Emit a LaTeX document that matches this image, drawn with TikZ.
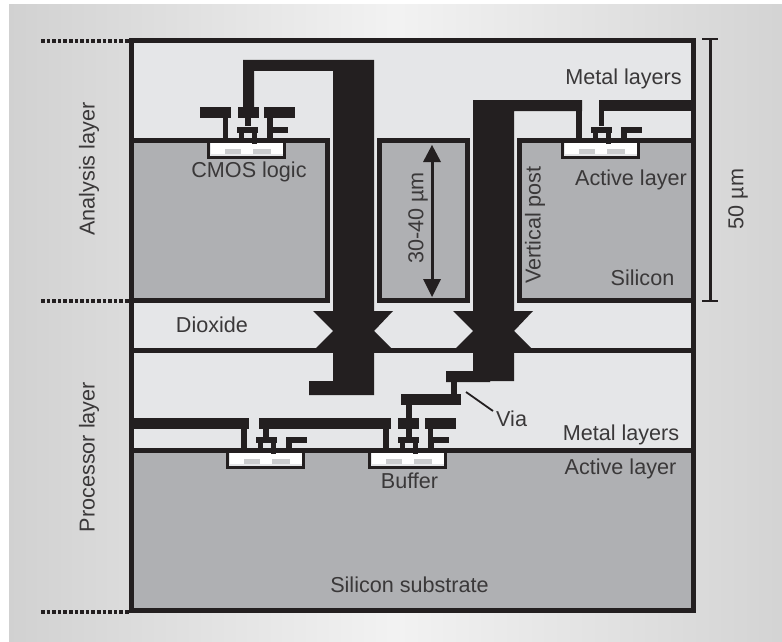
\documentclass[tikz,border=0pt]{standalone}
\usepackage{fontspec}
\setmainfont{Liberation Sans}
\definecolor{ink}{HTML}{231F20}
\definecolor{pale}{HTML}{E5E6E8}
\definecolor{silicon}{HTML}{AFB0B3}
\definecolor{bump}{HTML}{CBCCCE}
\definecolor{txt}{HTML}{3A3839}
\pgfdeclarehorizontalshading{bgshade}{100bp}{
  color(0bp)=(white!0!black!18);
  color(25bp)=(white!0!black!18);
  color(50bp)=(white!0!black!5);
  color(75bp)=(white!0!black!17);
  color(100bp)=(white!0!black!17)}
\tikzset{
  lbl/.style={inner sep=0pt,text=txt,font=\fontsize{21.6}{25}\selectfont},
  rot/.style={lbl,rotate=90},
  wall/.style={draw=ink,line width=5pt,line join=miter},
  dots/.style={draw=ink,line width=4pt,dash pattern=on 3.6pt off 2pt},
  dim/.style={draw=ink,line width=3pt}
}
\newcommand{\mtl}[4]{\fill[ink] (#1,#2) rectangle (#3,#4);}
% chip at left edge #1, under wall whose top is #2, with transistor above it
\newcommand{\chipat}[2]{%
  \pgfmathsetmacro{\yb}{#2+5}%
  \pgfmathsetmacro{\yc}{#2+21}%
  \filldraw[fill=pale,draw=ink,line width=3pt] (#1+1.5,\yb) -- (#1+1.5,\yc-1.5) -- (#1+77.5,\yc-1.5) -- (#1+77.5,\yb);
  \fill[white] (#1+4,\yb) rectangle (#1+76,\yb+11);
  \fill[bump] (#1+18,\yb+6) rectangle (#1+34,\yb+11);
  \fill[bump] (#1+46,\yb+6) rectangle (#1+64,\yb+11);
  \mtl{#1+30}{#2-11.5}{#1+51}{#2-5.5}
  \mtl{#1+32}{#2-5.5}{#1+36.5}{#2}
  \mtl{#1+45}{#2-5.5}{#1+50}{#2+6}
  \mtl{#1+60}{#2-11.5}{#1+66}{#2}
  \mtl{#1+60}{#2-11.5}{#1+81}{#2-5.5}
}
\begin{document}
\begin{tikzpicture}[x=1pt,y=-1pt]
\useasboundingbox (0,0) rectangle (782,642);
% background
\fill[white] (0,0) rectangle (782,642);
\path[shading=bgshade] (9,5) rectangle (782,642);
% frame contents
\fill[pale] (131.5,40.5) rectangle (693.5,610.5);
\fill[silicon] (131.5,450.5) rectangle (693.5,610.5);
\draw[wall,fill=silicon] (131.5,140.5) rectangle (327.5,300.5);
\draw[wall,fill=silicon] (379.5,140.5) rectangle (467.5,300.5);
\draw[wall,fill=silicon] (519.5,140.5) rectangle (693.5,300.5);
\draw[wall] (131.5,350.5) -- (693.5,350.5);
\draw[wall] (131.5,450.5) -- (693.5,450.5);
\draw[wall] (131.5,40.5) rectangle (693.5,610.5);
% chips and transistors
\chipat{207}{138}
\chipat{561}{138}
\chipat{226}{448}
\chipat{368}{448}
% left vertical post with its metal
\fill[ink] (243,107) -- (243,60) -- (374,60) -- (374,395) -- (309,395) -- (309,381) -- (333,381) -- (333,71) -- (254,71) -- (254,107) -- cycle;
\fill[ink] (333,311) -- (313,311) -- (333,331) -- (316,348) -- (391,348) -- (374,331) -- (393,311) -- cycle;
\mtl{200}{107}{231}{118}
\mtl{223}{118}{228}{138}
\mtl{238}{107}{259}{118}
\mtl{245}{118}{251}{126}
\mtl{264}{107}{295}{118}
\mtl{267}{118}{273}{138}
% right vertical post with its metal
\fill[ink] (473,311) -- (453,311) -- (473,331) -- (456,348) -- (531,348) -- (514,331) -- (533,311) -- cycle;
\fill[ink] (473,100) -- (582,100) -- (582,111) -- (514,111) -- (514,381) -- (490,381) -- (490,382) -- (446,382) -- (446,371) -- (473,371) -- cycle;
\mtl{576}{111}{582}{138}
\mtl{599}{100}{691}{111}
\mtl{599}{111}{604}{126}
\mtl{451}{382}{457}{394}
\mtl{401}{394}{461}{405}
\mtl{406}{405}{412}{418}
% lower metal
\mtl{131}{418}{249}{429}
\mtl{241}{429}{247}{448}
\mtl{259}{418}{391}{429}
\mtl{263}{429}{269}{437}
\mtl{383}{429}{389}{448}
\mtl{398}{418}{419}{429}
\mtl{406}{429}{412}{437}
\mtl{425}{418}{456}{429}
\mtl{428}{429}{433}{448}
% dotted level marks
\coordinate (d1a) at (41,41); \coordinate (d1b) at (129,41);
\coordinate (d2a) at (41,301); \coordinate (d2b) at (129,301);
\coordinate (d3a) at (41,612); \coordinate (d3b) at (129,612);
\draw[dots] (d1a) -- (d1b);
\draw[dots] (d2a) -- (d2b);
\draw[dots] (d3a) -- (d3b);
% 50 um dimension
\coordinate (t1) at (702,39); \coordinate (t2) at (718,39);
\coordinate (b1) at (702,301); \coordinate (b2) at (718,301);
\draw[dim,line width=2.5pt] (t1) -- (t2);
\draw[dim,line width=2.5pt] (b1) -- (b2);
\draw[dim] (710.5,39) -- (710.5,301);
% 30-40 um arrow
\coordinate (a1) at (432,155); \coordinate (a2) at (432,285);
\draw[dim] (a1) -- (a2);
\fill[ink] (432,145) -- (441,162) -- (423,162) -- cycle;
\fill[ink] (432,297) -- (441,279) -- (423,279) -- cycle;
% via leader
\node[lbl,anchor=west] (via) at (496,419) {Via};
\coordinate (v1) at (466,392);
\coordinate (v2) at (493,411);
\draw[ink,line width=1.8pt] (v1) -- (v2);
% labels
\node[lbl] (m1) at (623.5,78.5) {Metal layers};
\node[lbl] (cmos) at (249,171.5) {CMOS logic};
\node[lbl] (act1) at (631,179.5) {Active layer};
\node[rot] (vp) at (535,225) {Vertical post};
\node[lbl] (si) at (642.5,278) {Silicon};
\node[rot] (um3) at (418,218) {30-40 µm};
\node[rot] (um5) at (738,199) {50 µm};
\node[rot] (an) at (89,169) {Analysis layer};
\node[rot] (pr) at (89,457) {Processor layer};
\node[lbl] (dx) at (212,325) {Dioxide};
\node[lbl] (m2) at (621,434.5) {Metal layers};
\node[lbl] (act2) at (620.5,468.5) {Active layer};
\node[lbl] (bf) at (409.5,481) {Buffer};
\node[lbl] (sub) at (409.5,585) {Silicon substrate};
\end{tikzpicture}
\end{document}
